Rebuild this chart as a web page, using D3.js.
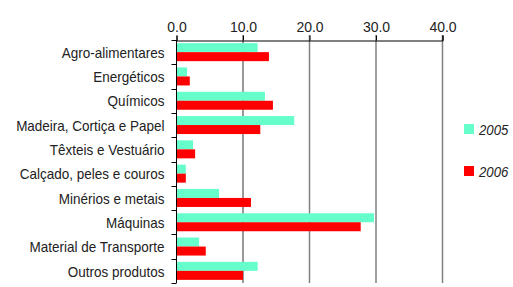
<!DOCTYPE html>
<html lang="pt">
<head>
    <meta charset="UTF-8">
    <title>Exportações por grupo de produtos</title>
    <style>
        body, html {
            margin: 0;
            padding: 0;
            background: #fff;
        }
        svg text {
            font-family: "Liberation Sans", Arial, sans-serif;
            fill: #222;
        }
    </style>
    <script src="https://d3js.org/d3.v7.min.js"></script>
</head>
<body>
    <div id="chart"></div>
    <script>
        const categories = [
            "Agro-alimentares", "Energéticos", "Químicos", "Madeira, Cortiça e Papel",
            "Têxteis e Vestuário", "Calçado, peles e couros", "Minérios e metais",
            "Máquinas", "Material de Transporte", "Outros produtos"
        ];
        const series = ["2005", "2006"];
        const values2005 = [12.2, 1.6, 13.3, 17.7, 2.5, 1.4, 6.4, 29.7, 3.4, 12.2];
        const values2006 = [13.9, 2.0, 14.5, 12.6, 2.8, 1.4, 11.2, 27.7, 4.4, 10.0];
        const xTicks = [0, 10, 20, 30, 40];

        const colors = { "2005": "#66ffcc", "2006": "#ff0000" };
        const width = 513, height = 287;
        const squeeze = 0.9; // labels in the original are a condensed face

        const svg = d3.select("#chart").append("svg")
            .attr("width", width)
            .attr("height", height);

        const x = d3.scaleLinear().domain([0, 40]).range([176.5, 442.5]);
        const y = d3.scaleBand().domain(categories).range([40, 283]);
        const y2 = d3.scaleBand().domain(series).range([0, y.bandwidth()]).paddingOuter(0.35).paddingInner(0);

        // gridlines
        svg.append("g")
            .selectAll("line")
            .data(xTicks.slice(1))
            .join("line")
            .attr("x1", d => x(d)).attr("x2", d => x(d))
            .attr("y1", 35).attr("y2", 283)
            .attr("stroke", d => d === 10 ? "#333" : "#808080")
            .attr("stroke-width", d => d === 10 ? 1 : 1.5);

        // bars
        const rows = categories.map((c, i) => ({ cat: c, vals: [values2005[i], values2006[i]] }));
        const groups = svg.append("g").selectAll("g")
            .data(rows)
            .join("g")
            .attr("transform", d => `translate(0,${y(d.cat)})`);

        groups.selectAll("rect")
            .data(d => d.vals.map((v, j) => ({ s: series[j], v })))
            .join("rect")
            .attr("x", x(0))
            .attr("y", d => y2(d.s))
            .attr("width", d => x(d.v) - x(0))
            .attr("height", y2.bandwidth())
            .attr("fill", d => colors[d.s]);

        // top axis
        const xAxis = svg.append("g")
            .attr("transform", "translate(0,40.5)")
            .call(d3.axisTop(x).tickValues(xTicks).tickFormat(d3.format(".1f")).tickSize(5).tickPadding(4));
        xAxis.select(".domain").attr("stroke", "#000");
        xAxis.selectAll(".tick line").attr("stroke", "#000");
        xAxis.selectAll("text").style("font-size", "14px").attr("fill", "#222");

        // left axis
        const yAxis = svg.append("g")
            .attr("transform", "translate(176.5,0)");
        yAxis.append("line")
            .attr("x1", 0).attr("x2", 0)
            .attr("y1", 40).attr("y2", 283)
            .attr("stroke", "#000");
        yAxis.selectAll(".cat-tick")
            .data(categories.concat(["end"]))
            .join("line")
            .attr("class", "cat-tick")
            .attr("x1", -5).attr("x2", 0)
            .attr("y1", (d, i) => Math.round(40 + i * y.step()) + 0.5)
            .attr("y2", (d, i) => Math.round(40 + i * y.step()) + 0.5)
            .attr("stroke", "#000");
        yAxis.selectAll("text")
            .data(categories)
            .join("text")
            .attr("transform", d => `translate(-12,${y(d) + y.bandwidth() / 2}) scale(${squeeze},1)`)
            .attr("dy", "0.38em")
            .attr("text-anchor", "end")
            .style("font-size", "15px")
            .text(d => d);

        // legend
        const legend = svg.append("g")
            .selectAll("g")
            .data(series)
            .join("g")
            .attr("transform", (d, i) => `translate(464,${124 + i * 42})`);
        legend.append("rect")
            .attr("width", 10).attr("height", 10)
            .attr("fill", d => colors[d]);
        legend.append("text")
            .attr("transform", `translate(15,10.5) scale(0.88,1)`)
            .style("font-size", "15px")
            .style("font-style", "italic")
            .text(d => d);
    </script>
</body>
</html>
